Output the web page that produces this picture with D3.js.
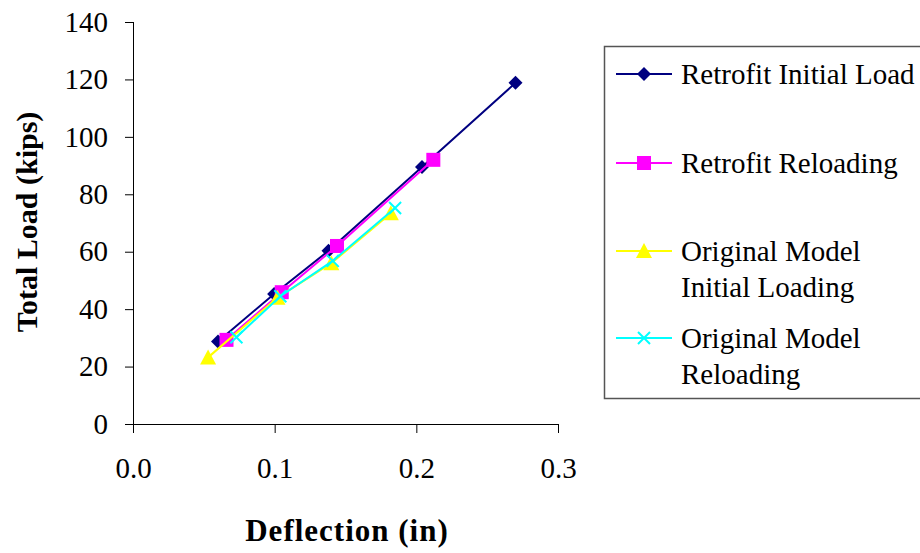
<!DOCTYPE html>
<html>
<head>
<meta charset="utf-8">
<script src="https://cdn.jsdelivr.net/npm/d3@7"></script>
<style>
  body { margin: 0; background: #fff; }
  svg { display: block; font-family: "Liberation Serif", "Times New Roman", serif; }
</style>
</head>
<body>
<svg width="920" height="553"></svg>
<script>
var xTicks = [0, 0.1, 0.2, 0.3];
var yTicks = [0, 20, 40, 60, 80, 100, 120, 140];

var retrofitInitial = [[0.060, 28.7], [0.0996, 45.3], [0.138, 60.3], [0.204, 89.5], [0.270, 118.8]];
var retrofitReload = [[0.066, 29.3], [0.105, 45.9], [0.144, 62.0], [0.212, 92.0]];
var originalInitial = [[0.053, 23.2], [0.102, 44.0], [0.140, 56.0], [0.182, 73.4]];
var originalReload = [[0.073, 30.2], [0.104, 44.5], [0.141, 56.8], [0.185, 75.2]];

var seriesNames = [["Retrofit Initial Load"], ["Retrofit Reloading"],
  ["Original Model", "Initial Loading"], ["Original Model", "Reloading"]];
var seriesColors = ["#000080", "#ff00ff", "#ffff00", "#00ffff"];
var seriesMarkers = ["diamond", "square", "triangle", "cross"];
var seriesData = [retrofitInitial, retrofitReload, originalInitial, originalReload];

var svg = d3.select('svg');

var x = d3.scaleLinear().domain([0, 0.3]).range([133, 558]);
var y = d3.scaleLinear().domain([0, 140]).range([424, 22]);

// axes
svg.append('g')
  .attr('transform', 'translate(0,424)')
  .call(d3.axisBottom(x).tickValues(xTicks).tickFormat(d3.format('.1f')).tickSize(9).tickPadding(24))
  .call(function (g) {
    g.select('.domain').attr('d', 'M125,0.5H558');
    g.selectAll('line').attr('stroke', '#000');
    g.selectAll('text').attr('font-size', 29).attr('fill', '#000').attr('font-family', 'Liberation Serif');
  });

svg.append('g')
  .attr('transform', 'translate(133,0)')
  .call(d3.axisLeft(y).tickValues(yTicks).tickSize(8).tickPadding(17))
  .call(function (g) {
    g.select('.domain').attr('d', 'M0.5,22V433');
    g.selectAll('line').attr('stroke', '#000');
    g.selectAll('text').attr('font-size', 29).attr('fill', '#000').attr('font-family', 'Liberation Serif');
  });

svg.append('text')
  .attr('x', 347).attr('y', 541)
  .attr('text-anchor', 'middle')
  .attr('font-size', 31).attr('font-weight', 'bold')
  .attr('letter-spacing', 1)
  .text('Deflection (in)');

svg.append('text')
  .attr('transform', 'translate(37,222) rotate(-90)')
  .attr('text-anchor', 'middle')
  .attr('font-size', 30).attr('font-weight', 'bold')
  .text('Total Load (kips)');

function marker(sel, type, color) {
  if (type == 'diamond') {
    sel.append('path').attr('d', 'M0,-7L7,0L0,7L-7,0Z').attr('fill', color);
  } else if (type == 'square') {
    sel.append('rect').attr('x', -7).attr('y', -7).attr('width', 14).attr('height', 14).attr('fill', color);
  } else if (type == 'triangle') {
    sel.append('path').attr('d', 'M0,-8L8,7L-8,7Z').attr('fill', color);
  } else {
    sel.append('path').attr('d', 'M-6,-6L6,6M-6,6L6,-6').attr('stroke', color).attr('stroke-width', 2);
  }
}

var line = d3.line()
  .x(function (d) { return x(d[0]); })
  .y(function (d) { return y(d[1]); });

seriesData.forEach(function (data, i) {
  var g = svg.append('g');
  g.append('path')
    .attr('d', line(data))
    .attr('fill', 'none')
    .attr('stroke', seriesColors[i])
    .attr('stroke-width', 2);
  g.selectAll('g.pt')
    .data(data)
    .enter()
    .append('g')
    .attr('class', 'pt')
    .attr('transform', function (d) { return 'translate(' + x(d[0]) + ',' + y(d[1]) + ')'; })
    .each(function () { marker(d3.select(this), seriesMarkers[i], seriesColors[i]); });
});

// legend
var legend = svg.append('g');
legend.append('rect')
  .attr('x', 604.5).attr('y', 46.5).attr('width', 340).attr('height', 352)
  .attr('fill', '#fff').attr('stroke', '#555').attr('stroke-width', 1.5);

var legendY = [74, 163, 251, 338];
seriesNames.forEach(function (name, i) {
  var ly = legendY[i];
  legend.append('line')
    .attr('x1', 616).attr('x2', 672).attr('y1', ly).attr('y2', ly)
    .attr('stroke', seriesColors[i]).attr('stroke-width', 2);
  var m = legend.append('g').attr('transform', 'translate(644,' + ly + ')');
  marker(m, seriesMarkers[i], seriesColors[i]);
  name.forEach(function (t, j) {
    legend.append('text')
      .attr('x', 681).attr('y', ly + 10 + j * 36)
      .attr('font-size', 29)
      .text(t);
  });
});
</script>
</body>
</html>
